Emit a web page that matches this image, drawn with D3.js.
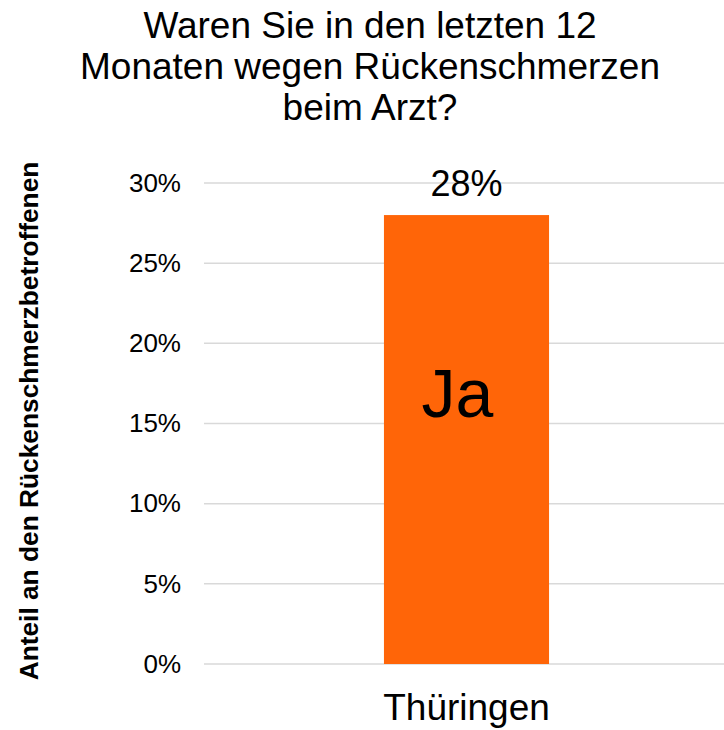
<!DOCTYPE html>
<html><head><meta charset="utf-8">
<script src="https://cdn.jsdelivr.net/npm/d3@7"></script>
<style>body{margin:0;background:#fff}svg{display:block}text{font-family:"Liberation Sans",Arial,Helvetica,sans-serif;fill:#000}</style>
</head><body>
<script>
const categories = ["Thüringen"];
const values = [28];
const seriesName = "Ja";
const yTicks = [0,5,10,15,20,25,30];
const titleLines = ["Waren Sie in den letzten 12","Monaten wegen Rückenschmerzen","beim Arzt?"];
const yAxisTitle = "Anteil an den Rückenschmerzbetroffenen";

const W=724,H=730;
const svg=d3.select("body").append("svg").attr("width",W).attr("height",H);
const x=d3.scaleBand().domain(categories).range([204,729]).paddingInner(0.5).paddingOuter(0.545);
const y=d3.scaleLinear().domain([0,30]).range([664,183]);

svg.append("g").selectAll("text").data(titleLines).join("text")
  .attr("x",370).attr("y",(d,i)=>38+i*41).attr("text-anchor","middle")
  .attr("font-size",37).text(d=>d);

svg.append("g").selectAll("line").data(yTicks).join("line")
  .attr("x1",204).attr("x2",724).attr("y1",d=>y(d)).attr("y2",d=>y(d))
  .attr("stroke","#d9d9d9").attr("stroke-width",1.5);

const yAxis=svg.append("g").attr("transform","translate(181,0)")
  .call(d3.axisLeft(y).tickValues(yTicks).tickFormat(d=>d+"%").tickSize(0).tickPadding(0));
yAxis.select(".domain").remove();
yAxis.selectAll("text").attr("font-size",26).style("font-family",'"Liberation Sans",Arial,sans-serif').attr("fill","#000");

svg.append("g").selectAll("rect").data(values).join("rect")
  .attr("x",(d,i)=>x(categories[i])).attr("width",x.bandwidth())
  .attr("y",d=>y(d)).attr("height",d=>y(0)-y(d)).attr("fill","#ff6508");

svg.append("g").selectAll("text").data(values).join("text")
  .attr("x",(d,i)=>x(categories[i])+x.bandwidth()/2).attr("y",d=>y(d)-19)
  .attr("text-anchor","middle").attr("font-size",36).text(d=>d+"%");

svg.append("g").selectAll("text").data(values).join("text")
  .attr("x",(d,i)=>x(categories[i])+x.bandwidth()/2-9).attr("y",d=>(y(d)+y(0))/2-23)
  .attr("text-anchor","middle").attr("font-size",68).text(seriesName);

const xAxis=svg.append("g").attr("transform","translate(0,664)")
  .call(d3.axisBottom(x).tickSize(0).tickPadding(0));
xAxis.select(".domain").remove();
xAxis.selectAll("text").attr("font-size",37).attr("dy",0).attr("y",56)
  .style("font-family",'"Liberation Sans",Arial,sans-serif').attr("fill","#000");

svg.append("text").attr("transform","translate(38,421) rotate(-90)")
  .attr("text-anchor","middle").attr("font-size",26.3).attr("font-weight","bold").text(yAxisTitle);
</script>
</body></html>
